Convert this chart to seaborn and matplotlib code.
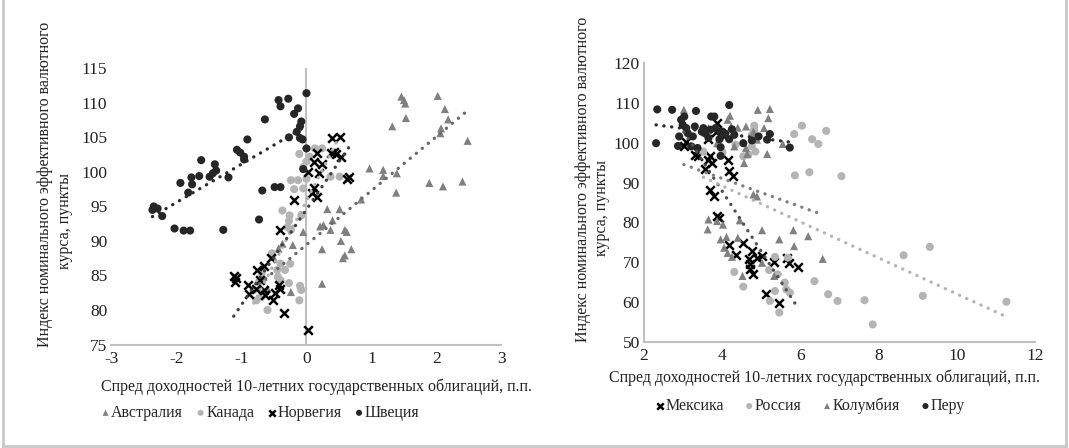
import numpy as np
import seaborn as sns
import matplotlib.pyplot as plt
from matplotlib.lines import Line2D

# data (spread, p.p. / NEER index, points)

# left panel: developed commodity exporters
aus_x = [1.46, 1.50, 1.52, 2.02, 2.13, 2.18, 1.53, 1.32, 2.07, 2.06, 2.48, 0.97, 1.18, 1.18, 1.39, 1.38, 1.89, 2.10,
         2.40, 0.84, 0.32, 0.51, 0.40, 0.26, 0.21, 0.37, 0.59, 0.62, -0.05, 0.24, 0.53, 0.69, 0.59, 0.56, 0.24, -0.21,
         -0.37, -0.43, -0.51, -0.24, -0.69, -0.66, -0.72, -0.60]
aus_y = [110.9, 110.4, 109.9, 111.0, 109.1, 107.6, 107.8, 106.6, 106.3, 105.6, 104.5, 100.5, 100.3, 99.4, 99.8, 97.0,
         98.4, 97.9, 98.6, 96.0, 94.6, 94.6, 93.0, 92.3, 92.1, 91.6, 91.6, 91.3, 91.3, 88.8, 90.0, 88.8, 87.9, 87.5,
         83.8, 89.4, 89.6, 88.9, 87.7, 82.6, 86.0, 84.8, 83.3, 83.1]

can_x = [-0.11, 0.00, -0.05, 0.05, 0.24, 0.37, -0.24, -0.13, -0.19, -0.37, -0.26, -0.27, -0.29, -0.24, -0.40, -0.25,
         -0.33, -0.44, -0.40, -0.27, -0.10, -0.08, -0.11, -0.60, -0.69, -0.73, -0.81, -0.69, -0.77, -0.53, -0.45,
         0.13, 0.51, 0.00, -0.05, -0.08]
can_y = [102.6, 101.5, 100.7, 102.2, 103.4, 99.3, 98.8, 98.8, 97.5, 94.4, 93.7, 92.9, 92.0, 91.6, 86.7, 86.7, 85.8,
         84.8, 84.3, 83.9, 83.5, 82.9, 81.4, 80.0, 85.3, 84.1, 82.9, 81.9, 81.4, 88.2, 85.8, 103.4, 99.3, 99.0,
         97.6, 93.7]

nor_x = [0.03, -0.34, -0.40, -0.19, 0.08, 0.11, 0.16, 0.19, 0.03, 0.11, 0.24, 0.16, 0.40, 0.51, 0.37, 0.43, 0.45,
         0.53, 0.63, 0.66, -1.12, -1.10, -1.09, -0.90, -0.89, -0.77, -0.76, -0.66, -0.54, -0.65, -0.64, -0.48, -0.51,
         -0.43, -0.40, -0.72]
nor_y = [77.1, 79.5, 91.6, 95.9, 97.0, 97.6, 96.4, 99.8, 100.0, 101.5, 101.1, 102.7, 104.9, 105.1, 102.7, 102.9,
         102.6, 102.1, 98.9, 99.2, 84.9, 84.1, 84.6, 83.6, 82.3, 83.1, 85.8, 86.3, 87.6, 82.9, 82.1, 82.4, 81.4,
         83.6, 83.1, 84.4]

swe_x = [0.00, -0.43, -0.28, -0.40, -0.13, -0.19, -0.64, -0.08, -0.10, -0.15, -0.91, -0.27, -0.10, -0.06, 0.00,
         -1.07, -1.02, -0.96, -0.96, -1.62, -1.41, -1.39, -1.44, -1.49, -1.65, -1.77, -1.76, -1.94, -1.20, -1.82,
         -0.05, -0.68, -0.49, -0.40, -2.35, -2.37, -2.29, -2.22, -0.73, -2.03, -1.89, -1.79, -1.28]
swe_y = [111.4, 110.4, 110.6, 109.5, 109.2, 108.4, 107.6, 107.3, 106.6, 105.8, 104.7, 105.0, 104.9, 104.7, 103.4,
         103.2, 102.8, 102.2, 101.8, 101.7, 101.1, 100.2, 99.8, 99.3, 99.4, 99.2, 98.2, 98.4, 99.2, 97.0, 100.4,
         97.3, 97.8, 97.8, 95.0, 94.5, 94.7, 93.6, 93.1, 91.8, 91.5, 91.5, 91.6]

# right panel: emerging markets
mex_x = [3.02, 3.08, 3.30, 3.39, 3.56, 3.65, 3.70, 3.74, 3.65, 3.87, 3.70, 3.78, 3.87, 3.93, 4.14, 4.18, 4.27, 4.05,
         4.18, 4.36, 4.52, 4.76, 4.69, 4.71, 4.71, 4.80, 4.89, 5.02, 5.33, 5.67, 5.70, 5.95, 5.11, 5.46, 3.83]
mex_y = [99.1, 100.3, 97.0, 96.6, 93.5, 95.7, 96.6, 94.9, 100.9, 104.9, 88.2, 86.5, 81.7, 81.1, 95.7, 92.8, 91.6,
         101.6, 74.4, 71.7, 74.8, 72.7, 70.7, 69.4, 68.3, 66.9, 71.1, 71.5, 70.0, 71.1, 69.8, 68.7, 61.9, 59.6, 102.8]

rus_x = [6.04, 5.84, 6.30, 6.46, 6.66, 5.86, 6.23, 7.05, 4.82, 4.82, 4.76, 4.67, 4.85, 4.76, 4.34, 4.01, 3.52, 4.54,
         8.64, 9.31, 9.13, 11.27, 7.85, 7.64, 6.95, 6.71, 6.36, 5.60, 5.64, 5.73, 5.35, 5.22, 5.46, 4.54, 4.31, 5.20,
         5.35, 5.68, 5.42]
rus_y = [104.3, 102.2, 100.9, 99.7, 103.0, 91.8, 92.6, 91.6, 104.3, 103.3, 102.0, 97.0, 97.8, 99.1, 99.5, 97.6, 97.8,
         96.6, 71.7, 73.8, 61.5, 60.0, 54.3, 60.4, 60.2, 61.9, 65.2, 64.8, 63.1, 62.3, 62.7, 60.2, 57.3, 63.8, 67.5,
         68.0, 71.3, 71.1, 66.9]

col_x = [3.02, 4.20, 4.14, 4.91, 5.22, 5.18, 4.23, 4.40, 4.61, 4.80, 5.07, 4.89, 4.31, 4.61, 4.64, 4.56, 5.15, 5.55,
         3.87, 3.65, 4.80, 4.89, 3.65, 3.63, 3.87, 4.02, 4.45, 3.96, 4.11, 4.05, 4.14, 4.25, 4.40, 4.52, 5.02, 5.46,
         5.82, 5.84, 6.20, 6.57, 5.02, 5.33]
col_y = [108.3, 106.8, 105.8, 108.3, 108.5, 106.2, 104.1, 103.8, 104.1, 102.8, 103.7, 100.8, 99.1, 98.7, 97.2, 94.9,
         97.2, 99.7, 99.9, 103.7, 87.0, 86.5, 80.7, 78.2, 80.3, 79.4, 80.5, 75.7, 76.3, 73.6, 72.3, 71.3, 76.1, 66.5,
         78.0, 75.7, 78.0, 74.0, 76.5, 70.8, 69.8, 66.5]

per_x = [2.34, 2.72, 3.33, 4.18, 2.31, 2.87, 2.90, 2.95, 3.03, 2.99, 3.08, 3.30, 3.48, 3.70, 3.72, 3.83, 4.01, 4.25,
         4.31, 4.18, 3.93, 3.96, 3.96, 4.54, 4.76, 4.93, 5.15, 5.22, 5.73, 3.21, 3.37, 3.56, 3.25, 3.12, 3.65, 3.80,
         3.52, 4.08]
per_y = [108.4, 108.3, 108.0, 109.5, 99.9, 99.2, 101.6, 105.8, 106.6, 104.5, 103.7, 104.1, 102.8, 103.3, 106.6, 103.7,
         102.8, 103.4, 102.0, 100.9, 100.9, 98.9, 96.7, 99.9, 100.6, 101.6, 100.8, 102.2, 98.8, 99.1, 98.7, 102.4,
         101.6, 102.4, 101.2, 106.6, 103.7, 102.3]

left_names = ['Австралия', 'Канада', 'Норвегия', 'Швеция']
right_names = ['Мексика', 'Россия', 'Колумбия', 'Перу']

x_label = 'Спред доходностей 10-летних государственных облигаций, п.п.'
y_label_1 = 'Индекс номинального эффективного валютного'
y_label_2 = 'курса, пункты'

sns.set_style('white')
plt.rcParams['font.family'] = ['Liberation Serif', 'DejaVu Serif']
plt.rcParams['font.size'] = 11
plt.rcParams['axes.unicode_minus'] = False

fig = plt.figure(figsize=(10.69, 4.48), dpi=100)
ax1 = fig.add_axes([0.1043, 0.2310, 0.3648, 0.6165])
ax2 = fig.add_axes([0.6024, 0.2377, 0.3658, 0.6210])

black = '#262626'
light = '#b4b4b4'
mid = '#808080'
dots = (0, (0.05, 2.3))


def draw_series(ax, xs, ys, marker, color, name, trend_color):
    if marker == 'x':
        sns.scatterplot(x=xs, y=ys, ax=ax, marker='x', color='black', s=38, linewidth=1.8, label=name)
    else:
        sns.scatterplot(x=xs, y=ys, ax=ax, marker=marker, color=color, s=34, edgecolor='none', label=name)
    sns.regplot(x=np.array(xs), y=np.array(ys), ax=ax, scatter=False, ci=None, color=trend_color,
                line_kws=dict(linestyle=dots, linewidth=2.4, dash_capstyle='round'))


# left chart
draw_series(ax1, aus_x, aus_y, '^', mid, left_names[0], '#6a6a6a')
draw_series(ax1, can_x, can_y, 'o', light, left_names[1], '#b0b0b0')
draw_series(ax1, nor_x, nor_y, 'x', 'black', left_names[2], '#404040')
draw_series(ax1, swe_x, swe_y, 'o', black, left_names[3], '#2a2a2a')

ax1.set_xlim(-3, 3)
ax1.set_ylim(75, 115)
ax1.set_xticks(np.arange(-3, 4, 1))
ax1.set_yticks(np.arange(75, 116, 5))
ax1.axvline(0, color='#c0c0c0', linewidth=1.5, zorder=0.5)
for s in ['top', 'right', 'left']:
    ax1.spines[s].set_visible(False)
ax1.spines['bottom'].set_color('#c0c0c0')
ax1.spines['bottom'].set_linewidth(1.5)

# right chart
draw_series(ax2, mex_x, mex_y, 'x', 'black', right_names[0], '#505050')
draw_series(ax2, rus_x, rus_y, 'o', light, right_names[1], '#b4b4b4')
draw_series(ax2, col_x, col_y, '^', mid, right_names[2], '#808080')
draw_series(ax2, per_x, per_y, 'o', black, right_names[3], '#2a2a2a')

ax2.set_xlim(2, 12)
ax2.set_ylim(50, 120)
ax2.set_xticks(np.arange(2, 13, 2))
ax2.set_yticks(np.arange(50, 121, 10))
for s in ['top', 'right']:
    ax2.spines[s].set_visible(False)
for s in ['bottom', 'left']:
    ax2.spines[s].set_color('#c0c0c0')
    ax2.spines[s].set_linewidth(1.5)

for ax in [ax1, ax2]:
    ax.tick_params(axis='both', length=0, labelsize=12.5, colors='#222222')
    ax.tick_params(axis='x', pad=5)
    ax.tick_params(axis='y', pad=3)
    ax.set_xlabel('')
    ax.set_ylabel('')
    ax.get_legend().remove()

# axis titles as figure text
fig.text(316 / 1069, 1 - 387 / 448, x_label, ha='center', va='center', fontsize=11.5, color='#222222')
fig.text(824 / 1069, 1 - 378 / 448, x_label, ha='center', va='center', fontsize=11.5, color='#222222')
fig.text(45 / 1069, 1 - 184 / 448, y_label_1, rotation=90, ha='center', va='center', fontsize=11.5, color='#222222')
fig.text(65 / 1069, 1 - 221 / 448, y_label_2, rotation=90, ha='center', va='center', fontsize=11.5, color='#222222')
fig.text(583 / 1069, 1 - 179 / 448, y_label_1, rotation=90, ha='center', va='center', fontsize=11.5, color='#222222')
fig.text(602 / 1069, 1 - 208 / 448, y_label_2, rotation=90, ha='center', va='center', fontsize=11.5, color='#222222')

# legends under each panel
h1, l1 = ax1.get_legend_handles_labels()
fig.legend(h1, l1, loc='center', bbox_to_anchor=(260 / 1069, 1 - 413 / 448), ncol=4, frameon=False,
           markerscale=0.75, handletextpad=0.05, handlelength=0.6, columnspacing=0.8, fontsize=11.5)
h2, l2 = ax2.get_legend_handles_labels()
fig.legend(h2, l2, loc='center', bbox_to_anchor=(810 / 1069, 1 - 406 / 448), ncol=4, frameon=False,
           markerscale=0.75, handletextpad=0.05, handlelength=0.6, columnspacing=1.3, fontsize=11.5)

# light frame around the picture
for xs, ys in [([3 / 1069, 3 / 1069], [0, 1]), ([1066 / 1069, 1066 / 1069], [0, 1]),
               ([3 / 1069, 1066 / 1069], [2 / 448, 2 / 448])]:
    fig.add_artist(Line2D(xs, ys, color='#c8c8c8', linewidth=2))

plt.savefig('out.png', dpi=100)
